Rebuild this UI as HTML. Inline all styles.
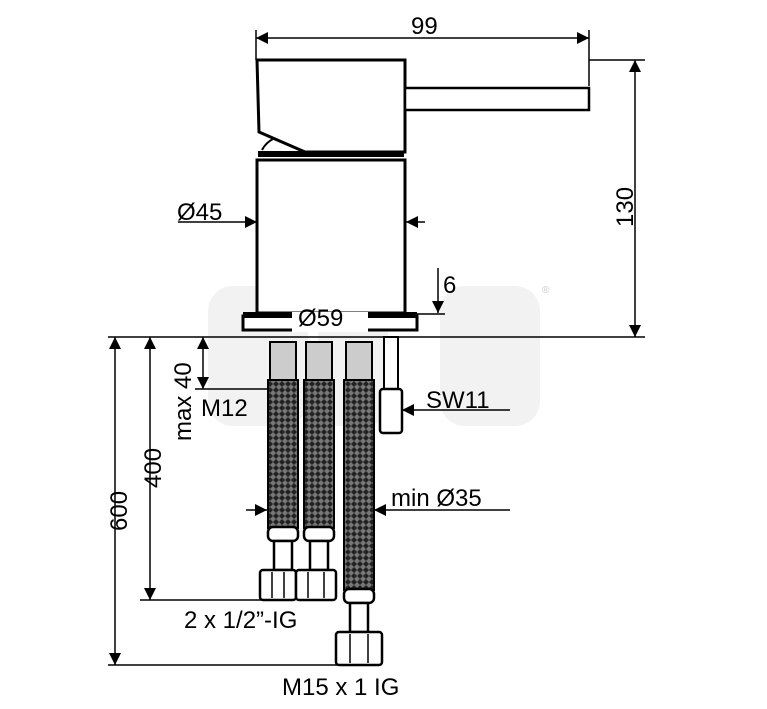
<!DOCTYPE html>
<html><head><style>body{margin:0;background:#fff}svg{display:block}text{font-family:"Liberation Sans",Arial,sans-serif;fill:#000}</style></head><body>
<svg width="767" height="709" viewBox="0 0 767 709" xmlns="http://www.w3.org/2000/svg">
<defs>
<marker id="a" viewBox="0 0 10 10" refX="10" refY="5" markerWidth="20" markerHeight="12" markerUnits="userSpaceOnUse" orient="auto"><path d="M0,0L10,5L0,10z" fill="#000"/></marker>
<marker id="b" viewBox="0 0 10 10" refX="0" refY="5" markerWidth="20" markerHeight="12" markerUnits="userSpaceOnUse" orient="auto"><path d="M10,0L0,5L10,10z" fill="#000"/></marker>
<pattern id="br" width="6" height="6" patternUnits="userSpaceOnUse"><rect width="6" height="6" fill="#222"/><path d="M0,3L3,0L6,3L3,6z" fill="#777"/></pattern>
</defs>
<g fill="#f2f2f2"><rect x="208" y="286" width="100" height="140" rx="25"/><rect x="318" y="286" width="70" height="140" rx="20"/><rect x="440" y="286" width="100" height="140" rx="25"/></g>
<g stroke="#000" fill="none" stroke-width="1.5">
<line x1="256" y1="30" x2="256" y2="60"/><line x1="589" y1="30" x2="589" y2="86"/>
<line x1="256" y1="38" x2="589" y2="38" marker-start="url(#b)" marker-end="url(#a)"/>
<line x1="589" y1="60" x2="645" y2="60"/>
<line x1="635" y1="60" x2="635" y2="337" marker-start="url(#b)" marker-end="url(#a)"/>
<line x1="108" y1="337" x2="645" y2="337"/>
<line x1="178" y1="222" x2="257" y2="222" marker-end="url(#a)"/>
<line x1="425" y1="222" x2="406" y2="222" marker-end="url(#a)"/>
<line x1="438" y1="268" x2="438" y2="313" marker-end="url(#a)"/>
<line x1="417" y1="314" x2="445" y2="314"/>
<line x1="115" y1="665" x2="115" y2="337" marker-end="url(#a)" marker-start="url(#b)"/>
<line x1="150" y1="600" x2="150" y2="337" marker-end="url(#a)" marker-start="url(#b)"/>
<line x1="203" y1="337" x2="203" y2="389" marker-start="url(#b)" marker-end="url(#a)"/>
<line x1="195" y1="389" x2="268" y2="389"/>
<line x1="140" y1="600" x2="265" y2="600"/>
<line x1="108" y1="665" x2="345" y2="665"/>
<line x1="510" y1="410" x2="402" y2="410" marker-end="url(#a)"/>
<line x1="510" y1="510" x2="374" y2="510" marker-end="url(#a)"/>
<line x1="246" y1="510" x2="267" y2="510" marker-end="url(#a)"/>
</g>
<g stroke="#000" fill="#fff" stroke-width="3">
<path d="M257,60H405V152H305L259,132Z"/>
<rect x="405" y="88" width="184" height="22" stroke-width="2.5"/>
<rect x="257" y="160" width="148" height="153"/>
<rect x="243" y="316" width="174" height="14"/>
</g>
<rect x="258" y="151" width="146" height="6" fill="#000"/>
<rect x="243" y="312" width="174" height="6" fill="#000"/>
<path d="M262,150Q266,142 275,138" stroke="#000" stroke-width="2" fill="none"/>
<rect x="292" y="312" width="76" height="20" fill="#fff"/>
<g stroke="#000" stroke-width="2" fill="#ccc">
<rect x="270" y="342" width="26" height="38"/><rect x="306" y="342" width="26" height="38"/><rect x="346" y="342" width="26" height="38"/>
</g>
<g stroke="#000" stroke-width="2" fill="url(#br)">
<rect x="268" y="380" width="30" height="148"/><rect x="304" y="380" width="30" height="148"/><rect x="344" y="380" width="30" height="210"/>
</g>
<g stroke="#000" stroke-width="2.5" fill="#fff">
<rect x="268" y="527" width="30" height="14" rx="5"/><rect x="274" y="541" width="18" height="29"/><rect x="260" y="570" width="36" height="30" rx="3"/>
<rect x="304" y="527" width="30" height="14" rx="5"/><rect x="310" y="541" width="18" height="29"/><rect x="296" y="570" width="40" height="30" rx="3"/>
<rect x="344" y="589" width="30" height="14" rx="5"/><rect x="350" y="603" width="18" height="29"/><rect x="336" y="632" width="46" height="33" rx="3"/>
<rect x="384" y="337" width="14" height="52" stroke-width="2"/><rect x="380" y="389" width="22" height="44" rx="3"/>
</g>
<g stroke="#000" stroke-width="1.5"><line x1="308" y1="572" x2="308" y2="598"/><line x1="324" y1="572" x2="324" y2="598"/><line x1="272" y1="572" x2="272" y2="598"/><line x1="284" y1="572" x2="284" y2="598"/><line x1="350" y1="634" x2="350" y2="663"/><line x1="368" y1="634" x2="368" y2="663"/></g>
<g font-size="24">
<text x="411" y="34">99</text>
<text x="177" y="220">Ø45</text>
<text x="298" y="326">Ø59</text>
<text x="443" y="293">6</text>
<text x="201" y="416">M12</text>
<text x="426" y="408">SW11</text>
<text x="391" y="506">min Ø35</text>
<text x="184" y="628">2 x 1/2”-IG</text>
<text x="282" y="695">M15 x 1 IG</text>
<text transform="translate(633,227) rotate(-90)">130</text>
<text transform="translate(127,531) rotate(-90)">600</text>
<text transform="translate(161,488) rotate(-90)">400</text>
<text transform="translate(191,441) rotate(-90)">max 40</text>
</g>
<text x="542" y="293" font-size="10" style="fill:#ccc">®</text>
</svg>
</body></html>
